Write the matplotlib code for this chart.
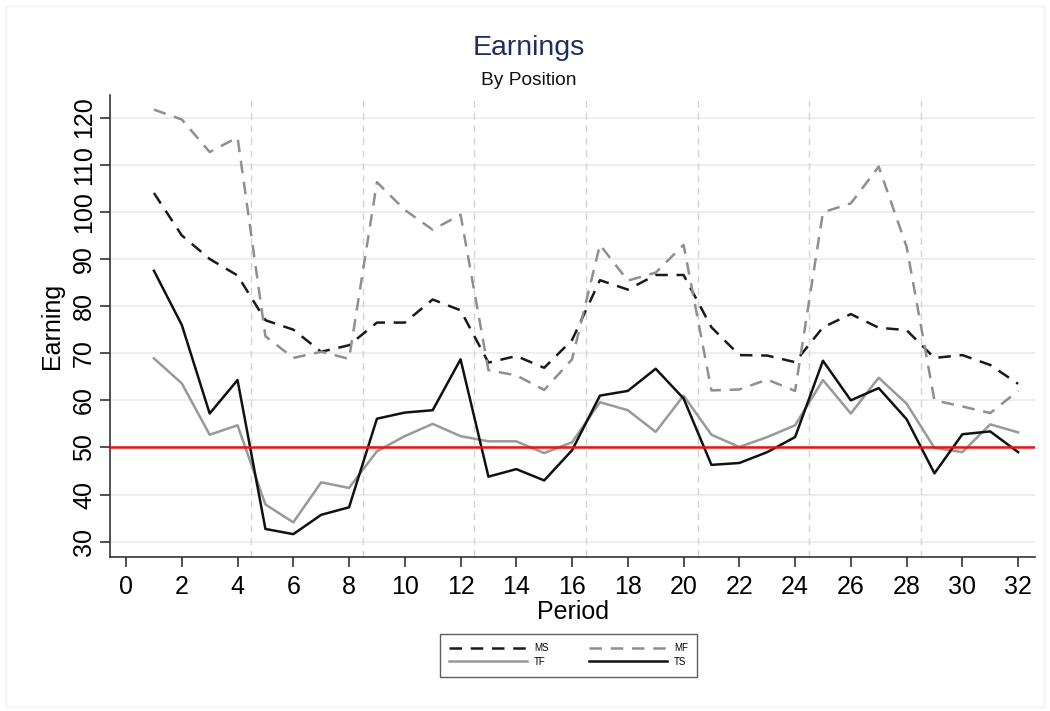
import matplotlib
matplotlib.use("Agg")
import matplotlib.pyplot as plt
import matplotlib.patches as patches
import numpy as np

plt.rcParams["font.family"] = ["Liberation Sans", "DejaVu Sans"]

# Données : gains par période et par position
periods = np.arange(1, 33)
ms = [104, 95, 90, 86.5, 77, 75, 70.3, 71.7, 76.5, 76.5, 81.4, 79.1,
      68, 69.4, 66.9, 72.8, 85.5, 83.5, 86.6, 86.6, 75.5, 69.6, 69.5, 68.1,
      75.5, 78.3, 75.4, 74.9, 69, 69.6, 67.5, 63.5]
mf = [121.7, 119.6, 112.7, 115.8, 73.6, 69, 70.3, 68.8, 106.3, 100.4, 96.2, 99.4,
      66.4, 65.3, 62.2, 68.7, 93, 85.4, 87.1, 93, 62.1, 62.3, 64.4, 62,
      99.9, 101.8, 109.6, 92.6, 60, 58.7, 57.3, 62]
tf = [68.9, 63.6, 52.7, 54.7, 37.9, 34.1, 42.6, 41.4, 49.2, 52.4, 55, 52.4,
      51.3, 51.3, 48.8, 51.1, 59.6, 57.9, 53.3, 61, 52.7, 50.1, 52.2, 54.7,
      64.3, 57.2, 64.8, 59.3, 49.9, 49, 54.9, 53.2]
ts = [87.5, 76, 57.2, 64.3, 32.7, 31.6, 35.7, 37.3, 56.1, 57.4, 57.9, 68.7,
      43.8, 45.4, 43, 49.4, 61, 62, 66.7, 60.4, 46.3, 46.7, 49, 52.2,
      68.4, 60, 62.6, 56, 44.5, 52.8, 53.4, 49]
block_breaks = [4.5, 8.5, 12.5, 16.5, 20.5, 24.5, 28.5]
reference_level = 50
x_ticks = np.arange(0, 33, 2)
y_ticks = np.arange(30, 121, 10)

fig = plt.figure(figsize=(10.5, 7.11), dpi=100)
ax = fig.add_axes([0.1048, 0.2166, 0.881, 0.6498])

# cadre extérieur très léger
fig.patches.append(patches.Rectangle((0.006, 0.006), 0.988, 0.985, transform=fig.transFigure,
                                     fill=False, edgecolor="#f2f2f2", linewidth=1))

ax.set_xlim(-0.574, 32.61)
ax.set_ylim(26.75, 124.8)

# grille horizontale et séparations des blocs
for yv in y_ticks:
    ax.axhline(yv, color="#ebebeb", linewidth=1.2, zorder=0)
for xb in block_breaks:
    ax.axvline(xb, color="#d4d4d4", linewidth=1, linestyle=(0, (5, 4)), zorder=1)

ax.plot(periods, ms, color="#1a1a1a", linewidth=1.8, linestyle=(0, (5, 3.5)), label="MS", zorder=3)
ax.plot(periods, tf, color="#999999", linewidth=1.8, label="TF", zorder=3)
ax.plot(periods, mf, color="#8f8f8f", linewidth=1.8, linestyle=(0, (5, 3.5)), label="MF", zorder=3)
ax.plot(periods, ts, color="#111111", linewidth=1.8, label="TS", zorder=3)

ax.axhline(reference_level, color="#ee1111", linewidth=1.8, zorder=4)

ax.set_xticks(x_ticks)
ax.set_yticks(y_ticks)
ax.tick_params(axis="both", direction="out", length=7, width=1.2, labelsize=18, color="#333333")
ax.tick_params(axis="x", pad=6)
ax.tick_params(axis="y", labelrotation=90, pad=3)
for lab in ax.get_yticklabels():
    lab.set_va("center")

for side in ["top", "right"]:
    ax.spines[side].set_visible(False)
for side in ["left", "bottom"]:
    ax.spines[side].set_linewidth(1.2)
    ax.spines[side].set_color("#333333")

ax.set_xlabel("Period", fontsize=18, labelpad=1)
ax.set_ylabel("Earning", fontsize=18, labelpad=6)

fig.text(0.5035, 0.933, "Earnings", ha="center", va="center", fontsize=20.5, color="#1f2d5c")
fig.text(0.5035, 0.887, "By Position", ha="center", va="center", fontsize=13.8, color="#111111")

leg = ax.legend(loc="center", bbox_to_anchor=(0.5415, 0.0785), bbox_transform=fig.transFigure,
                ncol=2, fontsize=7, frameon=True, fancybox=False, handlelength=8,
                columnspacing=4.2, labelspacing=0.35, borderpad=1.0, handletextpad=0.7)
leg.get_frame().set_edgecolor("#333333")
leg.get_frame().set_linewidth(1)

fig.savefig("out.png", dpi=100, facecolor="white")
